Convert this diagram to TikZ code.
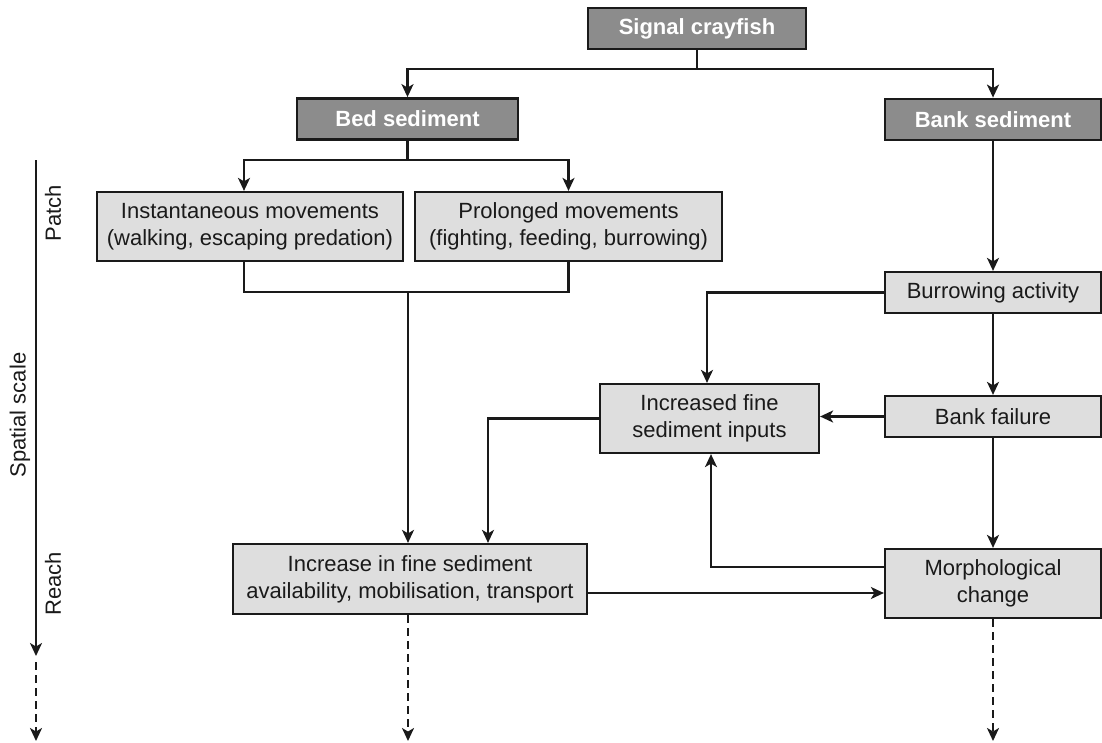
\documentclass[tikz,border=0pt]{standalone}
\usepackage{fontspec}
\setmainfont{Liberation Sans}
\usetikzlibrary{arrows.meta}
\definecolor{darkbox}{HTML}{8C8C8C}
\definecolor{lightbox}{HTML}{DEDEDE}
\definecolor{ink}{HTML}{1A1A1A}
\begin{document}
\begin{tikzpicture}[x=1pt,y=-1pt,
  darknode/.style={draw=ink, line width=2.8pt, fill=darkbox, text=white, font=\fontsize{22}{27}\selectfont\bfseries, inner sep=0pt, minimum height=41pt},
  lightnode/.style={draw=ink, line width=2.2pt, fill=lightbox, text=ink, font=\fontsize{22}{27}\selectfont, inner sep=0pt, align=center},
  conn/.style={draw=ink, line width=2.2pt},
  arr/.style={conn, -{Stealth[length=13pt,width=12pt,inset=3.5pt]}},
  darr/.style={arr, dash pattern=on 8pt off 5pt},
  scalelbl/.style={text=ink, font=\fontsize{22}{27}\selectfont, rotate=90, inner sep=0pt}
]
\useasboundingbox (0,0) rectangle (1102,742);

% nodes
\node[darknode, minimum width=218pt] (crayfish) at (697,28.5) {Signal crayfish};
\node[darknode, minimum width=221pt] (bed) at (407.5,119) {Bed sediment};
\node[darknode, minimum width=216pt] (bank) at (993,119.5) {Bank sediment};
\node[lightnode, minimum width=306pt, minimum height=69pt] (inst) at (250,226.5) {Instantaneous movements\\(walking, escaping predation)};
\node[lightnode, minimum width=307pt, minimum height=69pt] (prol) at (568.5,226.5) {Prolonged movements\\(fighting, feeding, burrowing)};
\node[lightnode, minimum width=216pt, minimum height=41pt] (burrow) at (993,292.5) {Burrowing activity};
\node[lightnode, minimum width=219pt, minimum height=69pt] (incr) at (709.5,418.5) {Increased fine\\sediment inputs};
\node[lightnode, minimum width=216pt, minimum height=41pt] (failure) at (993,416.5) {Bank failure};
\node[lightnode, minimum width=354pt, minimum height=70pt] (increase) at (410,579) {Increase in fine sediment\\availability, mobilisation, transport};
\node[lightnode, minimum width=216pt, minimum height=69pt] (morph) at (993,583.5) {Morphological\\change};

% axis
\coordinate (axtop) at (36,160);
\coordinate (axmid) at (36,656);
\coordinate (axdash) at (36,662);
\coordinate (axend) at (36,741);
\draw[arr] (axtop) -- (axmid);
\draw[darr] (axdash) -- (axend);
\node[scalelbl] (patch) at (53,213) {Patch};
\node[scalelbl] (spatial) at (20,415) {Spatial scale};
\node[scalelbl] (reach) at (53,584) {Reach};

% connectors
\coordinate (c1) at (697,69);
\draw[conn] (crayfish.south) -- (c1);
\draw[arr] (c1) -| (bed.north);
\draw[arr] (c1) -| (bank.north);

\coordinate (c2) at (407.5,160);
\draw[conn] (bed.south) -- (c2);
\draw[arr] (c2) -| ([xshift=-6pt]inst.north);
\draw[arr] (c2) -| (prol.north);

\coordinate (c3) at (408,292);
\draw[conn] ([xshift=-6pt]inst.south) |- (c3) -| (prol.south);
\draw[arr] (c3) -- (c3 |- increase.north);

\draw[arr] (bank.south) -- (burrow.north);
\draw[arr] (burrow.west) -| ([xshift=-2.5pt]incr.north);
\draw[arr] (burrow.south) -- (failure.north);
\draw[arr] (failure.west) -- (failure.west -| incr.east);
\draw[arr] (incr.west) -| ([xshift=78pt]increase.north);
\draw[arr] (failure.south) -- (morph.north);
\draw[arr] ([yshift=16.5pt]morph.west) -| ([xshift=1.5pt]incr.south);
\draw[arr] ([yshift=-14pt]increase.east) -- ([yshift=-14pt]increase.east -| morph.west);

\coordinate (e1) at (408,741);
\coordinate (e2) at (993,741);
\draw[darr] ([xshift=-2pt]increase.south) -- (e1);
\draw[darr] (morph.south) -- (e2);
\end{tikzpicture}
\end{document}
